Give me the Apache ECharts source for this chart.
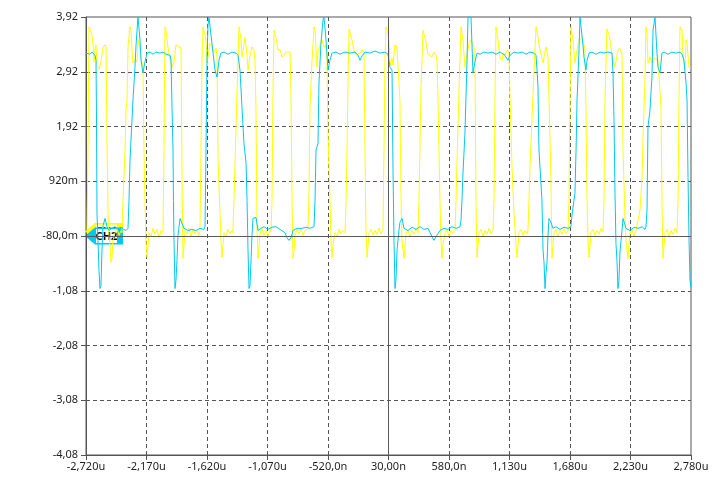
<!DOCTYPE html>
<html>
<head>
<meta charset="utf-8">
<script src="https://cdn.jsdelivr.net/npm/echarts@6/dist/echarts.min.js"></script>
<style>
html,body{margin:0;padding:0;background:#fff;}
#c{width:716px;height:490px;}
</style>
</head>
<body>
<div id="c"></div>
<script>
// ---- axis description ----
const timeRange = [-2.72, 2.78];      // µs
const timeDiv = 0.55;                 // µs / div
const voltRange = [-4.08, 3.92];      // V
const voltDiv = 1;                    // V / div
const centerTime = 0.03;              // µs
const centerVolt = -0.08;             // V
const xTickLabels = ['-2,720u','-2,170u','-1,620u','-1,070u','-520,0n','30,00n','580,0n','1,130u','1,680u','2,230u','2,780u'];
const yTickLabels = ['-4,08','-3,08','-2,08','-1,08','-80,0m','920m','1,92','2,92','3,92'];

// ---- channels ----
const channelNames = ['CH1', 'CH2'];
const channelColors = ['#FFFF00', '#00C8F0'];
const channelLevels = [0.0, -0.08];   // V, reference markers

// CH1 (yellow) samples [time µs, volts]
const ch1 = [
[-2.720,0.02],[-2.711,-0.02],[-2.702,1.49],[-2.693,3.74],[-2.675,3.74],[-2.665,3.59],[-2.656,3.41],[-2.647,3.10],[-2.638,3.32],[-2.629,3.41],[-2.620,3.04],[-2.602,2.97],[-2.584,3.10],[-2.565,3.37],[-2.547,3.41],[-2.538,3.37],
[-2.529,1.67],[-2.520,0.33],[-2.511,-0.07],[-2.502,-0.25],[-2.493,-0.56],[-2.484,-0.49],[-2.475,-0.16],[-2.456,-0.02],[-2.438,0.06],[-2.420,-0.07],[-2.402,0.02],[-2.393,-0.02],
[-2.384,0.57],[-2.365,1.49],[-2.356,2.22],[-2.347,2.40],[-2.338,3.37],[-2.320,3.74],[-2.311,3.68],[-2.302,3.32],[-2.293,3.08],[-2.275,3.13],[-2.256,3.10],[-2.247,3.50],[-2.229,3.32],[-2.211,3.08],[-2.202,3.04],
[-2.193,1.49],[-2.184,0.57],[-2.175,-0.16],[-2.165,-0.47],[-2.156,-0.25],[-2.147,-0.02],[-2.129,-0.09],[-2.111,0.06],[-2.093,-0.05],[-2.075,0.04],[-2.056,-0.11],[-2.038,0.02],[-2.020,-0.02],
[-2.011,1.49],[-2.002,3.74],[-1.993,3.68],[-1.975,3.37],[-1.956,3.13],[-1.938,3.00],[-1.920,3.10],[-1.902,3.41],[-1.884,3.44],[-1.865,3.37],[-1.856,3.32],
[-1.847,0.94],[-1.838,-0.49],[-1.829,-0.25],[-1.820,0.02],[-1.802,-0.05],[-1.784,0.06],[-1.765,-0.09],[-1.747,0.04],[-1.729,-0.04],[-1.711,0.02],[-1.693,-0.07],[-1.684,0.02],
[-1.675,1.49],[-1.665,3.13],[-1.656,3.74],[-1.638,3.59],[-1.629,3.50],[-1.620,3.08],[-1.602,3.32],[-1.593,3.44],[-1.575,3.37],[-1.556,3.28],[-1.538,3.35],[-1.529,3.22],
[-1.520,1.36],[-1.502,0.33],[-1.493,-0.16],[-1.484,-0.47],[-1.475,-0.25],[-1.465,-0.02],[-1.447,-0.09],[-1.429,0.04],[-1.411,-0.04],[-1.393,0.02],[-1.384,-0.02],
[-1.365,1.25],[-1.347,2.58],[-1.338,3.13],[-1.329,3.74],[-1.311,3.50],[-1.302,3.19],[-1.284,3.41],[-1.275,3.55],[-1.256,3.22],[-1.247,2.95],[-1.229,3.22],[-1.211,3.37],[-1.193,3.32],
[-1.184,3.13],[-1.175,2.27],[-1.165,0.02],[-1.156,-0.49],[-1.147,-0.25],[-1.138,-0.04],[-1.120,0.06],[-1.102,-0.07],[-1.084,0.02],[-1.065,-0.09],[-1.047,0.04],[-1.038,0.00],
[-1.029,0.57],[-1.020,2.58],[-1.011,3.68],[-0.993,3.54],[-0.975,3.32],[-0.956,3.32],[-0.938,3.19],[-0.920,3.22],[-0.902,3.28],[-0.884,3.26],[-0.865,3.28],
[-0.856,2.40],[-0.847,0.57],[-0.838,-0.49],[-0.829,-0.35],[-0.820,-0.07],[-0.802,0.04],[-0.784,-0.04],[-0.765,0.06],[-0.747,-0.07],[-0.729,0.02],[-0.711,0.00],
[-0.702,0.06],[-0.693,0.70],[-0.684,2.27],[-0.665,3.13],[-0.647,3.74],[-0.638,3.68],[-0.620,3.00],[-0.611,3.28],[-0.593,3.41],[-0.575,3.50],[-0.556,3.37],[-0.538,3.41],[-0.529,3.13],
[-0.520,1.80],[-0.502,0.57],[-0.493,-0.16],[-0.484,-0.47],[-0.475,-0.25],[-0.456,-0.02],[-0.438,-0.09],[-0.420,0.04],[-0.402,-0.04],[-0.384,0.02],[-0.365,-0.02],
[-0.356,0.57],[-0.347,1.49],[-0.338,2.77],[-0.329,3.70],[-0.320,3.68],[-0.302,3.50],[-0.284,3.32],[-0.265,3.22],[-0.247,3.22],[-0.229,3.26],[-0.211,3.32],[-0.193,3.28],
[-0.184,1.49],[-0.175,0.02],[-0.165,-0.47],[-0.156,-0.25],[-0.147,-0.02],[-0.129,0.04],[-0.111,-0.07],[-0.093,0.02],[-0.075,-0.05],[-0.056,0.06],[-0.038,-0.04],[-0.020,0.02],
[-0.011,1.49],[-0.002,3.13],[0.007,3.74],[0.025,3.65],[0.035,3.46],[0.044,3.04],[0.062,3.17],[0.071,3.04],[0.089,3.41],[0.107,3.37],[0.125,3.37],
[0.134,2.40],[0.144,0.57],[0.153,-0.16],[0.171,-0.49],[0.180,-0.25],[0.189,-0.04],[0.207,0.04],[0.225,-0.09],[0.244,0.02],[0.262,-0.05],[0.280,0.04],[0.298,-0.02],
[0.307,0.57],[0.325,2.58],[0.344,3.68],[0.353,3.70],[0.371,3.46],[0.389,3.24],[0.407,3.26],[0.425,3.19],[0.444,3.28],[0.462,3.22],[0.471,3.13],
[0.480,2.40],[0.498,0.57],[0.507,-0.16],[0.516,-0.49],[0.525,-0.25],[0.544,-0.02],[0.562,0.04],[0.580,-0.09],[0.598,0.02],[0.616,-0.04],[0.635,0.02],
[0.644,0.57],[0.653,1.30],[0.671,2.58],[0.689,3.74],[0.707,3.50],[0.725,3.00],[0.744,3.22],[0.762,3.44],[0.780,3.50],[0.798,3.41],[0.816,3.32],
[0.825,0.57],[0.835,-0.47],[0.844,-0.25],[0.853,-0.02],[0.871,0.04],[0.889,-0.09],[0.907,0.02],[0.925,-0.05],[0.944,0.06],[0.962,-0.04],[0.980,0.02],
[0.989,0.57],[0.998,2.40],[1.007,3.74],[1.025,3.50],[1.044,3.17],[1.062,3.13],[1.071,3.26],[1.089,3.22],[1.107,3.32],[1.125,3.28],
[1.135,2.40],[1.153,1.17],[1.171,0.33],[1.189,-0.25],[1.198,-0.47],[1.207,-0.25],[1.216,-0.02],[1.235,0.04],[1.253,-0.07],[1.271,0.02],[1.289,-0.04],[1.298,0.02],
[1.307,0.57],[1.316,1.17],[1.335,2.09],[1.353,2.95],[1.371,3.74],[1.389,3.55],[1.407,3.32],[1.435,3.08],[1.453,3.28],[1.462,3.37],[1.480,3.19],[1.498,3.22],
[1.507,0.94],[1.516,-0.49],[1.525,-0.25],[1.535,-0.02],[1.553,0.04],[1.571,-0.09],[1.589,0.02],[1.607,-0.05],[1.625,0.06],[1.644,-0.04],[1.662,0.02],
[1.671,0.57],[1.680,2.40],[1.689,3.74],[1.707,3.50],[1.725,3.08],[1.744,3.32],[1.753,3.44],[1.771,3.50],[1.789,3.55],[1.807,3.41],[1.816,3.32],
[1.825,2.27],[1.835,0.57],[1.844,-0.16],[1.853,-0.47],[1.862,-0.25],[1.871,-0.02],[1.889,0.04],[1.907,-0.07],[1.925,0.02],[1.944,-0.05],[1.962,0.06],[1.980,0.00],
[1.989,0.57],[1.998,2.40],[2.016,3.70],[2.035,3.59],[2.044,3.50],[2.062,3.22],[2.089,3.00],[2.107,3.22],[2.116,3.32],[2.135,3.35],[2.153,3.22],
[2.162,1.49],[2.180,0.20],[2.189,-0.16],[2.207,-0.49],[2.216,-0.25],[2.225,-0.04],[2.244,0.04],[2.262,-0.09],[2.280,0.02],[2.298,0.02],
[2.316,0.39],[2.335,0.99],[2.344,1.72],[2.362,2.82],[2.371,3.74],[2.380,3.63],[2.389,3.08],[2.407,3.19],[2.425,3.08],[2.444,3.17],[2.462,3.17],[2.480,3.13],[2.498,3.13],
[2.507,2.27],[2.516,0.57],[2.525,-0.49],[2.535,-0.25],[2.544,-0.02],[2.562,0.04],[2.580,-0.09],[2.598,0.02],[2.616,-0.05],[2.635,0.06],[2.653,-0.02],
[2.662,0.57],[2.671,2.40],[2.680,3.74],[2.698,3.68],[2.707,3.26],[2.725,2.95],[2.735,3.50],[2.744,3.44],[2.762,3.00],[2.780,3.00]
];

// CH2 (cyan) samples [time µs, volts]
const ch2 = [
[-2.720,3.26],[-2.702,3.28],[-2.684,3.24],[-2.665,3.28],[-2.647,3.26],[-2.638,3.22],
[-2.629,3.13],[-2.625,2.22],[-2.620,0.33],[-2.611,-0.16],[-2.602,-0.71],[-2.593,-1.04],[-2.584,-0.99],[-2.575,-0.35],[-2.565,0.11],[-2.547,0.24],[-2.538,0.26],[-2.529,0.09],[-2.511,0.02],[-2.484,0.06],[-2.456,0.09],[-2.429,0.04],[-2.402,0.08],[-2.375,0.04],[-2.356,0.02],[-2.338,0.06],
[-2.329,0.57],[-2.320,1.30],[-2.311,1.67],[-2.293,2.40],[-2.275,3.00],[-2.265,3.41],[-2.256,3.68],[-2.247,3.92],[-2.238,3.92],[-2.229,3.50],[-2.220,3.13],[-2.202,2.90],[-2.184,3.10],[-2.165,3.26],[-2.138,3.28],[-2.111,3.24],[-2.084,3.28],[-2.047,3.26],[-2.020,3.28],[-1.993,3.24],[-1.956,3.22],
[-1.947,3.13],[-1.938,2.27],[-1.929,1.49],[-1.925,0.57],[-1.920,-0.16],[-1.911,-1.04],[-1.902,-0.89],[-1.893,-0.53],[-1.884,-0.07],[-1.865,0.24],[-1.847,0.26],[-1.829,0.06],[-1.793,0.02],[-1.756,0.04],[-1.720,0.02],[-1.684,0.06],[-1.647,0.04],[-1.638,0.09],
[-1.629,1.49],[-1.620,3.13],[-1.611,3.77],[-1.602,3.92],[-1.584,3.92],[-1.565,3.26],[-1.547,2.95],[-1.529,2.82],[-1.511,3.13],[-1.493,3.26],[-1.465,3.28],[-1.429,3.24],[-1.393,3.28],[-1.356,3.26],[-1.338,3.22],
[-1.320,2.95],[-1.302,2.27],[-1.284,1.61],[-1.265,1.25],[-1.256,0.57],[-1.247,-0.35],[-1.238,-1.04],[-1.229,-0.99],[-1.220,-0.53],[-1.211,-0.07],[-1.202,0.24],[-1.175,0.26],[-1.156,0.02],[-1.129,0.06],[-1.102,0.09],[-1.065,0.04],[-1.029,0.08],[-0.993,0.09],[-0.956,0.04],[-0.911,-0.02],[-0.893,-0.11],[-0.875,-0.16],[-0.856,-0.11],[-0.838,0.02],[-0.802,0.06],[-0.756,0.06],[-0.720,0.08],[-0.684,0.06],[-0.647,0.09],
[-0.638,0.57],[-0.629,1.49],[-0.611,1.61],[-0.602,2.71],[-0.584,3.44],[-0.565,3.87],[-0.556,3.92],[-0.538,3.50],[-0.520,2.95],[-0.502,3.13],[-0.484,3.26],[-0.447,3.28],[-0.411,3.24],[-0.365,3.28],[-0.320,3.26],[-0.275,3.28],[-0.247,3.22],[-0.229,3.13],[-0.211,3.21],[-0.184,3.28],[-0.138,3.26],[-0.093,3.30],[-0.047,3.26],[-0.002,3.28],[0.025,3.24],
[0.044,3.00],[0.062,2.95],[0.071,1.12],[0.080,-0.16],[0.089,-1.04],[0.098,-0.89],[0.107,-0.35],[0.125,0.02],[0.134,0.17],[0.153,0.24],[0.171,0.06],[0.207,0.02],[0.244,0.08],[0.280,0.04],[0.316,0.09],[0.353,0.04],[0.389,0.06],[0.425,-0.09],[0.444,-0.16],[0.462,-0.09],[0.498,0.02],[0.535,0.06],[0.571,0.04],[0.607,0.09],[0.644,0.06],[0.680,0.09],
[0.689,0.20],[0.698,0.57],[0.707,1.06],[0.725,1.80],[0.744,3.13],[0.753,3.92],[0.780,3.92],[0.789,3.41],[0.798,2.90],[0.816,3.10],[0.835,3.26],[0.862,3.24],[0.898,3.28],[0.935,3.26],[0.971,3.28],[1.007,3.24],[1.044,3.28],[1.089,3.22],[1.116,3.13],[1.135,3.22],[1.171,3.28],[1.207,3.26],[1.244,3.28],[1.280,3.24],[1.316,3.28],[1.353,3.26],[1.371,3.22],
[1.380,2.95],[1.389,2.64],[1.398,1.49],[1.425,0.57],[1.435,-0.35],[1.444,-0.57],[1.453,-1.04],[1.462,-0.75],[1.471,-0.57],[1.480,-0.07],[1.489,0.24],[1.507,0.17],[1.525,0.06],[1.553,0.09],[1.589,0.04],[1.625,0.08],[1.662,0.06],[1.689,0.09],
[1.698,0.30],[1.716,0.57],[1.725,0.70],[1.735,1.49],[1.744,2.40],[1.762,3.32],[1.771,3.92],[1.789,3.92],[1.798,3.41],[1.807,3.19],[1.825,2.95],[1.835,3.13],[1.853,3.26],[1.880,3.28],[1.916,3.24],[1.953,3.28],[1.989,3.26],[2.025,3.28],[2.062,3.26],[2.071,2.90],
[2.080,2.03],[2.089,0.70],[2.098,-0.22],[2.107,-0.53],[2.116,-1.04],[2.125,-0.89],[2.135,-0.35],[2.153,0.02],[2.162,0.24],[2.189,0.06],[2.225,0.02],[2.262,0.08],[2.298,0.06],[2.335,0.09],[2.362,0.04],
[2.371,0.09],[2.380,0.39],[2.389,1.91],[2.407,2.22],[2.425,2.82],[2.435,3.68],[2.453,3.92],[2.462,3.92],[2.471,3.26],[2.480,3.00],[2.498,2.90],[2.516,3.26],[2.535,3.28],[2.571,3.24],[2.607,3.28],[2.644,3.26],[2.680,3.28],[2.698,3.24],
[2.716,3.13],[2.735,2.71],[2.744,2.40],[2.753,0.99],[2.762,-0.16],[2.771,-0.89],[2.780,-1.02]
];

// ---- build chart ----
const tMin = timeRange[0], vMin = voltRange[0];
const shift = (arr) => arr.map(p => [p[0] - tMin, p[1] - vMin]);
const AX = '#555555';
const FONT = "'Noto Sans', 'DejaVu Sans', sans-serif";

const chart = echarts.init(document.getElementById('c'), null, {renderer: 'canvas'});
chart.setOption({
  animation: false,
  backgroundColor: '#ffffff',
  grid: {left: 86, right: 25, top: 17, bottom: 35, show: true, borderColor: AX, borderWidth: 1, backgroundColor: '#ffffff'},
  xAxis: {
    type: 'value',
    min: 0, max: timeRange[1] - timeRange[0], interval: timeDiv,
    axisLine: {show: true, onZero: false, lineStyle: {color: AX, width: 1}},
    axisTick: {show: true, length: 5, lineStyle: {color: AX}},
    axisLabel: {
      margin: 6, color: '#1e1e1e', fontSize: 11, fontFamily: FONT,
      formatter: v => xTickLabels[Math.round(v / timeDiv)],
      showMinLabel: true, showMaxLabel: true
    },
    splitLine: {show: true, showMinLine: false, showMaxLine: false, lineStyle: {color: AX, type: [4, 3], width: 1}}
  },
  yAxis: {
    type: 'value',
    min: 0, max: voltRange[1] - voltRange[0], interval: voltDiv,
    axisLine: {show: true, onZero: false, lineStyle: {color: AX, width: 1}},
    axisTick: {show: true, length: 5, lineStyle: {color: AX}},
    axisLabel: {
      margin: 8, color: '#1e1e1e', fontSize: 11, fontFamily: FONT,
      formatter: v => yTickLabels[Math.round(v / voltDiv)],
      showMinLabel: true, showMaxLabel: true
    },
    splitLine: {show: true, showMinLine: false, showMaxLine: false, lineStyle: {color: AX, type: [4, 3], width: 1}}
  },
  series: [
    {
      type: 'line', data: [], silent: true, z: 1,
      markLine: {
        silent: true, symbol: ['none', 'none'], label: {show: false},
        lineStyle: {type: 'solid', color: '#5a5a5a', width: 1},
        animation: false,
        data: [{xAxis: centerTime - tMin}, {yAxis: centerVolt - vMin}]
      }
    },
    {
      name: channelNames[0], type: 'line', data: shift(ch1), showSymbol: false, symbol: 'none',
      clip: true, z: 2, lineStyle: {color: channelColors[0], width: 1}
    },
    {
      name: channelNames[1], type: 'line', data: shift(ch2), showSymbol: false, symbol: 'none',
      clip: true, z: 3, lineStyle: {color: channelColors[1], width: 1}
    }
  ]
});

// channel reference markers at left edge of the grid
function marker(i) {
  const p = chart.convertToPixel({gridIndex: 0}, [0, channelLevels[i] - vMin]);
  const x = p[0] - 1, y = p[1];
  return {
    type: 'group', x: x, y: y, z: 100 + i,
    children: [
      {type: 'polygon', shape: {points: [[0,0],[10,-8.5],[38,-8.5],[38,8.5],[10,8.5]]}, style: {fill: channelColors[i]}},
      {type: 'rect', shape: {x: 11, y: -7, width: 21, height: 14}, style: {fill: '#ffffff'}},
      {type: 'text', style: {text: channelNames[i], x: 21.5, y: 0.5, align: 'center', verticalAlign: 'middle',
        fill: '#000', font: "bold 11px 'Noto Sans', 'DejaVu Sans', sans-serif"}}
    ]
  };
}
chart.setOption({graphic: [marker(0), marker(1)]});
</script>
</body>
</html>
